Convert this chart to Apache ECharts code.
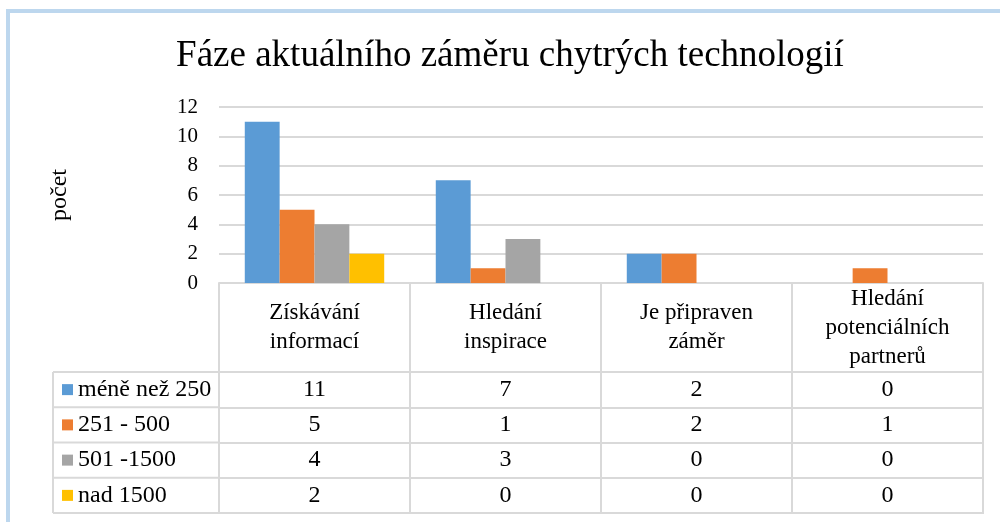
<!DOCTYPE html>
<html>
<head>
<meta charset="utf-8">
<script src="https://cdn.jsdelivr.net/npm/echarts@6/dist/echarts.min.js"></script>
<style>
  html, body { margin: 0; padding: 0; background: #fff; }
  #chart { width: 1000px; height: 522px; }
</style>
</head>
<body>
<div id="chart"></div>
<script>
// data
var categories = ['Získávání\ninformací', 'Hledání\ninspirace', 'Je připraven\nzáměr', 'Hledání\npotenciálních\npartnerů'];
var seriesNames = ['méně než 250', '251 - 500', '501 -1500', 'nad 1500'];
var lessThan250 = [11, 7, 2, 0];
var from251to500 = [5, 1, 2, 1];
var from501to1500 = [4, 3, 0, 0];
var over1500 = [2, 0, 0, 0];
var yTicks = [0, 2, 4, 6, 8, 10, 12];

var seriesData = [lessThan250, from251to500, from501to1500, over1500];
var colors = ['#5B9BD5', '#ED7D31', '#A5A5A5', '#FFC000'];

// layout
var FONT = '"Liberation Serif", "DejaVu Serif", serif';
var LINE = '#d9d9d9';
var plotL = 219, plotR = 983, plotT = 107, plotB = 283;
var headerH = 89;
var rowH = (513 - 372) / 4;
var legendL = 53;

var chart = echarts.init(document.getElementById('chart'));

var xAxes = [{
  type: 'category',
  data: categories,
  position: 'bottom',
  axisLine: { lineStyle: { color: LINE, width: 2 } },
  axisTick: { show: true, length: headerH, lineStyle: { color: LINE, width: 2 } },
  axisLabel: {
    interval: 0, margin: headerH / 2, verticalAlign: 'middle',
    fontFamily: FONT, fontSize: 23, lineHeight: 29, color: '#000'
  }
}];

seriesData.forEach(function (row, i) {
  xAxes.push({
    type: 'category',
    data: categories,
    position: 'bottom',
    offset: headerH + rowH * i,
    axisLine: { lineStyle: { color: LINE, width: 2 } },
    axisTick: { show: true, length: rowH, lineStyle: { color: LINE, width: 2 } },
    axisLabel: {
      interval: 0, margin: rowH / 2, verticalAlign: 'middle',
      fontFamily: FONT, fontSize: 24, color: '#000',
      formatter: function (v, idx) { return String(row[idx]); }
    }
  });
});

// table lines of the legend column + bottom line
var graphics = [];
for (var r = 0; r <= 4; r++) {
  var y = plotB + headerH + rowH * r;
  graphics.push({
    type: 'line', silent: true,
    shape: { x1: legendL, y1: y, x2: r === 4 ? plotR + 1 : plotL, y2: y },
    style: { stroke: LINE, lineWidth: 2 }
  });
}
graphics.push({
  type: 'line', silent: true,
  shape: { x1: legendL, y1: plotB + headerH, x2: legendL, y2: plotB + headerH + rowH * 4 },
  style: { stroke: LINE, lineWidth: 2 }
});
// outer frame
graphics.push({
  type: 'line', silent: true,
  shape: { x1: 6, y1: 11, x2: 1000, y2: 11 },
  style: { stroke: '#BDD7EE', lineWidth: 4 }
});
graphics.push({
  type: 'line', silent: true,
  shape: { x1: 8, y1: 9, x2: 8, y2: 522 },
  style: { stroke: '#BDD7EE', lineWidth: 4 }
});

chart.setOption({
  backgroundColor: '#fff',
  animation: false,
  color: colors,
  title: {
    text: 'Fáze aktuálního záměru chytrých technologií',
    left: 510, top: 38, textAlign: 'center', padding: 0,
    textStyle: { fontFamily: FONT, fontSize: 37, fontWeight: 'normal', color: '#000' }
  },
  legend: {
    orient: 'vertical',
    left: 62,
    top: plotB + headerH + rowH / 2 - 12,
    padding: 0,
    itemGap: rowH - 24,
    itemWidth: 11, itemHeight: 11,
    icon: 'rect',
    selectedMode: false,
    data: seriesNames,
    textStyle: { fontFamily: FONT, fontSize: 24, lineHeight: 24, color: '#000', padding: [0, 0, 0, 0] }
  },
  grid: {
    left: plotL, right: 1000 - plotR, top: plotT, bottom: 522 - plotB,
    outerBoundsMode: 'none'
  },
  xAxis: xAxes,
  yAxis: {
    type: 'value',
    min: yTicks[0], max: yTicks[yTicks.length - 1], interval: yTicks[1] - yTicks[0],
    name: 'počet',
    nameLocation: 'middle',
    nameRotate: 90,
    nameGap: 147,
    nameTextStyle: { fontFamily: FONT, fontSize: 24, color: '#000' },
    axisLine: { show: false },
    axisTick: { show: false },
    axisLabel: { margin: 21, fontFamily: FONT, fontSize: 21, color: '#000' },
    splitLine: { lineStyle: { color: LINE, width: 2 } }
  },
  series: seriesData.map(function (d, i) {
    return {
      name: seriesNames[i],
      type: 'bar',
      data: d,
      barGap: '0%',
      barCategoryGap: '27%'
    };
  }),
  graphic: graphics
});
</script>
</body>
</html>
